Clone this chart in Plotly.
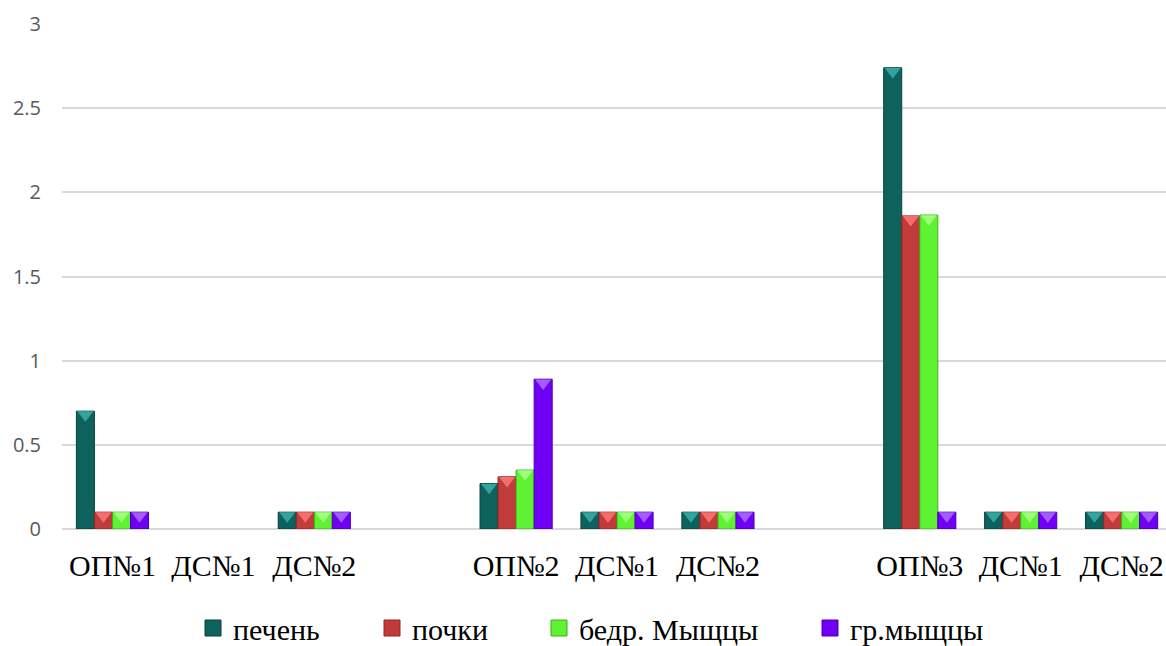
import plotly.graph_objects as go

# Category labels and their slot positions (empty slots separate the three series of samples)
categories = ["ОП№1", "ДС№1", "ДС№2", "ОП№2", "ДС№1", "ДС№2", "ОП№3", "ДС№1", "ДС№2"]
slots = [1, 2, 3, 5, 6, 7, 9, 10, 11]

# Series values
liver = [0.70, None, 0.10, 0.27, 0.10, 0.10, 2.74, 0.10, 0.10]
kidneys = [0.10, None, 0.10, 0.31, 0.10, 0.10, 1.86, 0.10, 0.10]
thigh_muscles = [0.10, None, 0.10, 0.35, 0.10, 0.10, 1.865, 0.10, 0.10]
chest_muscles = [0.10, None, 0.10, 0.89, 0.10, 0.10, 0.10, 0.10, 0.10]

series_names = ["печень", "почки", "бедр. Мыщцы", "гр.мыщцы"]
series_values = [liver, kidneys, thigh_muscles, chest_muscles]
fill_colors = ["#0d625e", "#c23b3b", "#5ff233", "#6f00f5"]
edge_colors = ["#08403d", "#8e2626", "#3fae1f", "#4a00a8"]
bevel_colors = ["#35a39d", "#f56e6e", "#9dff7a", "#a35cff"]

y_ticks = [0, 0.5, 1, 1.5, 2, 2.5, 3]
y_tick_text = ["0", "0.5", "1", "1.5", "2", "2.5", "3"]

SERIF = "Times New Roman, Liberation Serif, DejaVu Serif, serif"
SANS = "Open Sans, Noto Sans, DejaVu Sans, sans-serif"

W, H = 1166, 646
bargap = 0.285
n_series = len(series_names)
bar_w = (1 - bargap) / n_series
bevel_drop = 0.022  # cap sits slightly below the bar top

# Left edge (px) of each legend entry along the bottom row
legend_left_px = [193, 372, 539, 810]
legend_mid_px = 628

fig = go.Figure()

for i, (name, vals) in enumerate(zip(series_names, series_values)):
    fig.add_trace(go.Bar(
        x=slots, y=vals, name=name, showlegend=False,
        marker=dict(color=fill_colors[i], line=dict(color=edge_colors[i], width=1)),
    ))

# Bevelled caps on top of each bar
for i, vals in enumerate(series_values):
    offset = (i - (n_series - 1) / 2) * bar_w
    xs = [s + offset for s, v in zip(slots, vals) if v is not None]
    ys = [v - bevel_drop for v in vals if v is not None]
    fig.add_trace(go.Scatter(
        x=xs, y=ys, mode="markers", showlegend=False, hoverinfo="skip",
        marker=dict(symbol="triangle-down", size=14, color=bevel_colors[i],
                    line=dict(width=0)),
    ))

# One legend per series so each entry sits at its own spot on the row
legend_layouts = {}
for i, name in enumerate(series_names):
    key = "legend" if i == 0 else f"legend{i + 1}"
    fig.add_trace(go.Scatter(
        x=[None], y=[None], mode="markers", name=name,
        legend=key,
        marker=dict(symbol="square", size=17, color=fill_colors[i],
                    line=dict(color=edge_colors[i], width=1)),
    ))
    legend_layouts[key] = dict(
        orientation="h", xref="container", yref="container",
        x=legend_left_px[i] / W, xanchor="left",
        y=1 - legend_mid_px / H, yanchor="middle",
        font=dict(family=SERIF, size=30, color="black"),
        itemwidth=30, bgcolor="rgba(0,0,0,0)",
    )

fig.update_layout(
    width=W, height=H,
    margin=dict(l=62, r=0, t=24, b=117),
    paper_bgcolor="white", plot_bgcolor="white",
    barmode="group", bargap=bargap, bargroupgap=0,
    showlegend=True,
    font=dict(family=SERIF),
    xaxis=dict(
        range=[0.5, 11.44], tickmode="array", tickvals=slots, ticktext=categories,
        showgrid=False, zeroline=False, showline=False, ticks="",
        ticklabelstandoff=16,
        tickfont=dict(family=SERIF, size=30, color="black"),
    ),
    yaxis=dict(
        range=[0, 3], tickmode="array", tickvals=y_ticks, ticktext=y_tick_text,
        showgrid=True, gridcolor="#d9d9d9", gridwidth=2,
        zeroline=True, zerolinecolor="#d9d9d9", zerolinewidth=2,
        showline=False, ticks="", ticklen=0, ticklabelstandoff=20,
        tickfont=dict(family=SANS, size=20, color="#595959"),
    ),
    **legend_layouts,
)

fig.write_html("out.html")
